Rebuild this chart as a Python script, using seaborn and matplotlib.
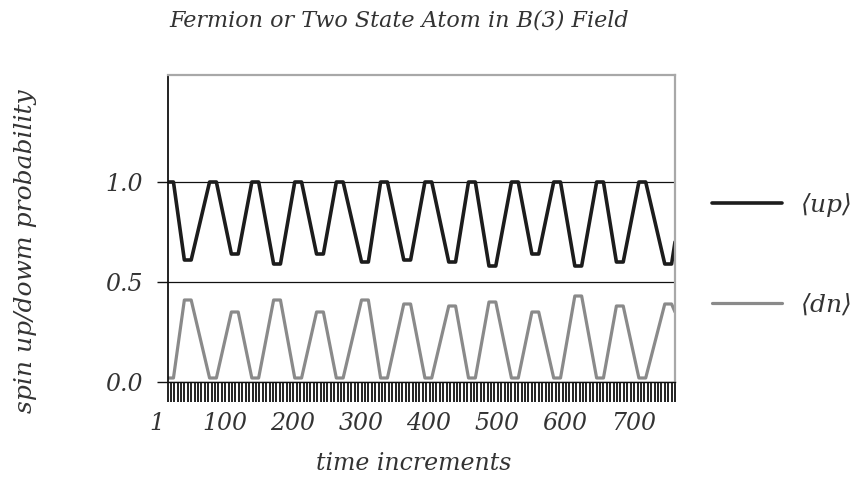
import numpy as np
import pandas as pd
import seaborn as sns
import matplotlib.pyplot as plt
from matplotlib.ticker import MultipleLocator, FixedLocator
from matplotlib.transforms import ScaledTranslation

# time increments at the flat tops / bottoms of each swing
t_steps = [1, 9, 25, 35, 62, 72, 94, 104, 124, 134, 156, 166, 187, 197,
           219, 229, 248, 258, 285, 295, 313, 323, 347, 357, 378, 388,
           413, 423, 442, 452, 472, 482, 505, 515, 535, 545, 567, 577,
           598, 608, 630, 640, 659, 669, 692, 702, 730, 740, 745]

up_prob = [1.0, 1.0, 0.61, 0.61, 1.0, 1.0, 0.64, 0.64, 1.0, 1.0, 0.59, 0.59,
           1.0, 1.0, 0.64, 0.64, 1.0, 1.0, 0.60, 0.60, 1.0, 1.0, 0.61, 0.61,
           1.0, 1.0, 0.60, 0.60, 1.0, 1.0, 0.58, 0.58, 1.0, 1.0, 0.64, 0.64,
           1.0, 1.0, 0.58, 0.58, 1.0, 1.0, 0.60, 0.60, 1.0, 1.0, 0.59, 0.59,
           0.70]

dn_prob = [0.02, 0.02, 0.41, 0.41, 0.02, 0.02, 0.35, 0.35, 0.02, 0.02, 0.41, 0.41,
           0.02, 0.02, 0.35, 0.35, 0.02, 0.02, 0.41, 0.41, 0.02, 0.02, 0.39, 0.39,
           0.02, 0.02, 0.38, 0.38, 0.02, 0.02, 0.40, 0.40, 0.02, 0.02, 0.35, 0.35,
           0.02, 0.02, 0.43, 0.43, 0.02, 0.02, 0.38, 0.38, 0.02, 0.02, 0.39, 0.39,
           0.35]

x_ticks = [1, 100, 200, 300, 400, 500, 600, 700]
y_ticks = [0.0, 0.5, 1.0]

sns.set_style("white")
plt.rcParams['font.family'] = ['DejaVu Serif']
plt.rcParams['font.style'] = 'italic'
plt.rcParams['mathtext.fontset'] = 'dejavuserif'

df = pd.DataFrame({'t': t_steps, 'up': up_prob, 'dn': dn_prob})

fig = plt.figure(figsize=(8.61, 4.78), dpi=100)
ax = fig.add_axes([168 / 861, 96 / 478, 507 / 861, 307 / 478])

sns.lineplot(data=df, x='t', y='up', ax=ax, color='#1c1c1c', linewidth=2.6,
             estimator=None, sort=False, label=r'$\langle up\rangle$')
sns.lineplot(data=df, x='t', y='dn', ax=ax, color='#8a8a8a', linewidth=2.3,
             estimator=None, sort=False, label=r'$\langle dn\rangle$')

ax.set_xlim(1, 745)
ax.set_ylim(0, 1.535)

ax.xaxis.set_major_locator(FixedLocator(x_ticks))
ax.xaxis.set_minor_locator(MultipleLocator(5))
ax.set_xticklabels([str(v) for v in x_ticks])
ax.set_yticks(y_ticks)
ax.set_yticklabels(['%.1f' % v for v in y_ticks])

ax.tick_params(axis='x', which='both', direction='out', length=14.5, width=1.3,
               color='#111111', bottom=True, labelsize=17, pad=7, labelcolor='#333333')
ax.tick_params(axis='y', which='major', direction='out', length=8, width=1.0,
               color='#111111', left=True, labelsize=17, pad=10, labelcolor='#333333')

# nudge the x labels left like the original print
for lbl in ax.get_xticklabels():
    lbl.set_transform(lbl.get_transform() + ScaledTranslation(-11 / 100, 0, fig.dpi_scale_trans))

ax.yaxis.grid(True, color='#111111', linewidth=0.9)
ax.xaxis.grid(False)

for side in ['top', 'right']:
    ax.spines[side].set_color('#a8a8a8')
    ax.spines[side].set_linewidth(1.6)
ax.spines['left'].set_color('#111111')
ax.spines['left'].set_linewidth(1.3)
ax.spines['bottom'].set_color('#111111')
ax.spines['bottom'].set_linewidth(1.0)

ax.set_xlabel('time increments', fontsize=17, color='#333333')
ax.xaxis.set_label_coords(0.485, -0.228)
ax.set_ylabel('spin up/dowm probability', fontsize=18, color='#333333')
ax.yaxis.set_label_coords(-0.258, 0.427)

fig.text(399 / 861, 1 - 21 / 478, 'Fermion or Two State Atom in B(3) Field',
         ha='center', va='center', fontsize=16, color='#333333')

leg = ax.legend(loc='center left', bbox_to_anchor=(712 / 861, 1 - 254 / 478),
                bbox_transform=fig.transFigure, frameon=False, fontsize=18,
                handlelength=2.8, handletextpad=0.7, labelspacing=2.9,
                borderpad=0, borderaxespad=0)
for txt in leg.get_texts():
    txt.set_color('#333333')

plt.savefig('out.png', dpi=100)
